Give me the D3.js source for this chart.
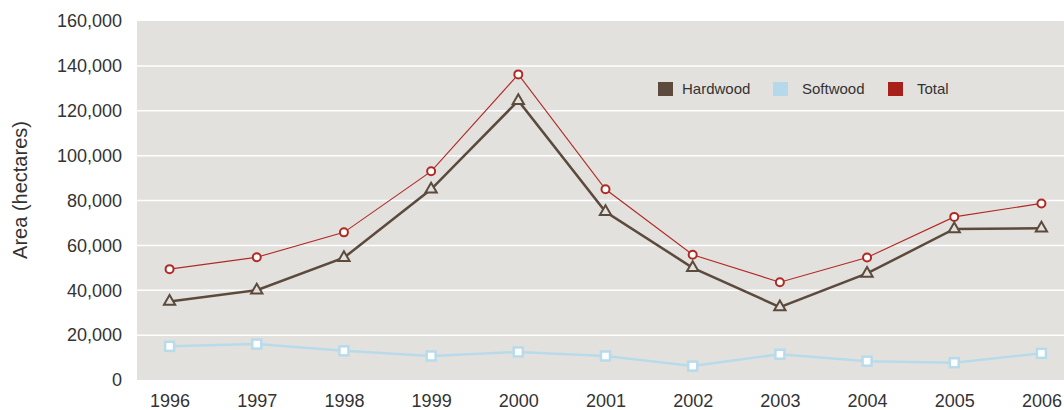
<!DOCTYPE html>
<html>
<head>
<meta charset="utf-8">
<script src="https://cdn.jsdelivr.net/npm/d3@7"></script>
<style>
    body { margin: 0; background: #ffffff; }
    svg { display: block; font-family: 'Liberation Sans', Arial, sans-serif; }
</style>
</head>
<body>
<svg id="chart" width="1064" height="410"></svg>
<script>
// Harvested area by wood type, 1996-2006
const years = [1996, 1997, 1998, 1999, 2000, 2001, 2002, 2003, 2004, 2005, 2006];
const hardwood = [35000, 40000, 54500, 85000, 124500, 75000, 50000, 32500, 47500, 67300, 67600];
const softwood = [15000, 16000, 13000, 10700, 12500, 10700, 6200, 11500, 8400, 7700, 11900];
const total = [49400, 54700, 65800, 93000, 136200, 85000, 55800, 43600, 54600, 72700, 78700];
const yTicks = [0, 20000, 40000, 60000, 80000, 100000, 120000, 140000, 160000];

const plot = { left: 137, right: 1074, top: 21, bottom: 380 };

const svg = d3.select('#chart');

// first/last points sit ~35px inside the plot edges
const step = (plot.right - plot.left) / (years.length - 1);
const x = d3.scalePoint()
    .domain(years)
    .range([plot.left, plot.right])
    .padding(35 / step);

const y = d3.scaleLinear()
    .domain([0, 160000])
    .range([plot.bottom, plot.top]);

svg.append('rect')
    .attr('x', plot.left)
    .attr('y', plot.top)
    .attr('width', plot.right - plot.left)
    .attr('height', plot.bottom - plot.top)
    .attr('fill', '#e3e1de');

// gridlines
svg.append('g')
    .selectAll('line')
    .data(yTicks.filter((t) => t > 0 && t < 160000))
    .join('line')
    .attr('x1', plot.left)
    .attr('x2', plot.right)
    .attr('y1', (t) => y(t))
    .attr('y2', (t) => y(t))
    .attr('stroke', '#ffffff')
    .attr('stroke-width', 1.5);

// y axis
const yAxis = svg.append('g')
    .attr('transform', `translate(${plot.left - 15},0)`)
    .call(d3.axisLeft(y).tickValues(yTicks).tickFormat(d3.format(',')).tickSize(0).tickPadding(0));
yAxis.select('.domain').remove();
yAxis.selectAll('text')
    .attr('font-size', 18)
    .attr('fill', '#333333')
    .attr('font-family', "'Liberation Sans', Arial, sans-serif");

// x axis
const xAxis = svg.append('g')
    .attr('transform', `translate(0,${plot.bottom})`)
    .call(d3.axisBottom(x).tickSize(0).tickPadding(14));
xAxis.select('.domain').remove();
xAxis.selectAll('text')
    .attr('font-size', 18)
    .attr('fill', '#333333')
    .attr('font-family', "'Liberation Sans', Arial, sans-serif");

svg.append('text')
    .attr('transform', 'translate(27,190) rotate(-90)')
    .attr('text-anchor', 'middle')
    .attr('font-size', 20)
    .attr('fill', '#333333')
    .text('Area (hectares)');

const line = (values) => d3.line()
    .x((d, i) => x(years[i]))
    .y((d) => y(d))(values);

const colors = { hardwood: '#5c4a3d', softwood: '#b8dbeb', total: '#b02a24' };

// softwood
svg.append('path')
    .attr('d', line(softwood))
    .attr('fill', 'none')
    .attr('stroke', colors.softwood)
    .attr('stroke-width', 2.5);
svg.append('g')
    .selectAll('rect')
    .data(softwood)
    .join('rect')
    .attr('x', (d, i) => x(years[i]) - 4.5)
    .attr('y', (d) => y(d) - 4.5)
    .attr('width', 9)
    .attr('height', 9)
    .attr('fill', '#ffffff')
    .attr('stroke', colors.softwood)
    .attr('stroke-width', 2.5);

// total
svg.append('path')
    .attr('d', line(total))
    .attr('fill', 'none')
    .attr('stroke', colors.total)
    .attr('stroke-width', 1.1);
svg.append('g')
    .selectAll('circle')
    .data(total)
    .join('circle')
    .attr('cx', (d, i) => x(years[i]))
    .attr('cy', (d) => y(d))
    .attr('r', 4)
    .attr('fill', '#ffffff')
    .attr('stroke', colors.total)
    .attr('stroke-width', 2);

// hardwood
svg.append('path')
    .attr('d', line(hardwood))
    .attr('fill', 'none')
    .attr('stroke', colors.hardwood)
    .attr('stroke-width', 2.5);
const tri = d3.symbol().type(d3.symbolTriangle).size(55);
svg.append('g')
    .selectAll('path')
    .data(hardwood)
    .join('path')
    .attr('d', tri)
    .attr('transform', (d, i) => `translate(${x(years[i])},${y(d)})`)
    .attr('fill', '#e3e1de')
    .attr('stroke', colors.hardwood)
    .attr('stroke-width', 2);

// legend
const legendItems = [
    { label: 'Hardwood', color: colors.hardwood, x: 658 },
    { label: 'Softwood', color: '#b5d9ea', x: 773 },
    { label: 'Total', color: '#a8201a', x: 888 }
];
const legend = svg.append('g')
    .selectAll('g')
    .data(legendItems)
    .join('g')
    .attr('transform', (d) => `translate(${d.x},82)`);
legend.append('rect')
    .attr('width', 15)
    .attr('height', 14)
    .attr('fill', (d) => d.color);
legend.append('text')
    .attr('x', (d) => (d.label === 'Hardwood' ? 24 : 29))
    .attr('y', 12)
    .attr('font-size', 15)
    .attr('fill', '#333333')
    .text((d) => d.label);
</script>
</body>
</html>
